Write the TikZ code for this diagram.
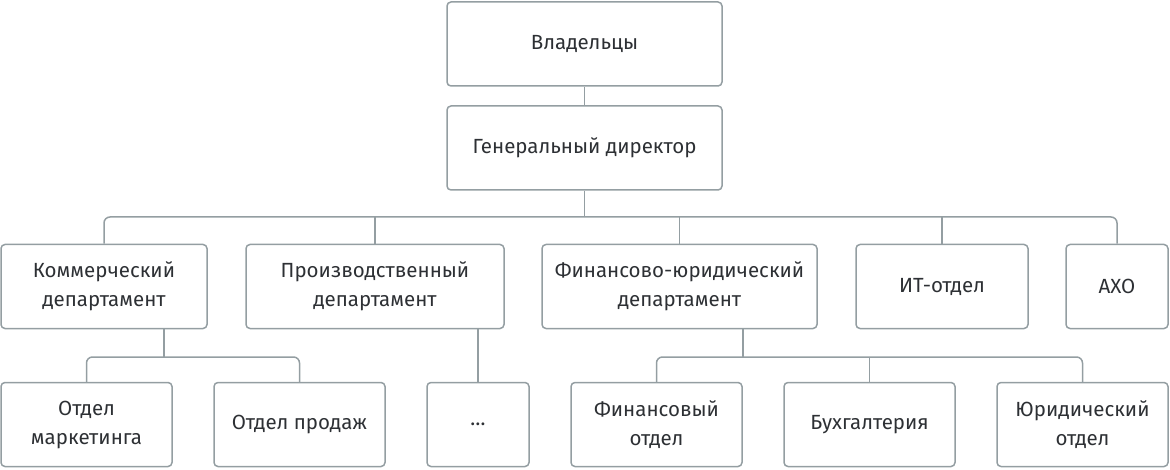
\documentclass[tikz,border=0pt]{standalone}
\usepackage{fontspec}
\setmainfont{Fira Sans}
\usetikzlibrary{positioning, calc}

\definecolor{linegray}{RGB}{148,158,162}
\definecolor{textgray}{RGB}{45,48,52}

\begin{document}
\begin{tikzpicture}[x=1pt, y=1pt,
                unit/.style={draw=linegray, line width=1.5pt, rounded corners=4pt,
                           align=center, font=\fontsize{20.5}{29}\selectfont, text=textgray,
                           minimum height=84pt, inner sep=0pt},
                link/.style={draw=linegray, line width=1.5pt, rounded corners=6pt}]

                \useasboundingbox (0,0) rectangle (1170,469);

                % top of the chart
                \node[unit, minimum width=275pt] (owners) at (584.5,425) {Владельцы};
                \node[unit, minimum width=275pt] (ceo) at (584.5,321) {Генеральный директор};
                \draw[link] (owners) -- (ceo);

                % departments
                \node[unit, minimum width=206pt] (comm) at (104,182.5) {Коммерческий\\департамент};
                \node[unit, minimum width=258pt] (prod) at (375,182.5) {Производственный\\департамент};
                \node[unit, minimum width=275pt] (finlaw) at (679.5,182.5) {Финансово-юридический\\департамент};
                \node[unit, minimum width=172pt] (itdep) at (942,182.5) {ИТ-отдел};
                \node[unit, minimum width=102pt] (aho) at (1117,182.5) {АХО};

                % bus under the director
                \coordinate (bus) at (0,252);
                \draw[link] (ceo) -- (ceo |- bus);
                \draw[link] (comm.north) -- (comm.north |- bus) -- (aho.north |- bus) -- (aho.north);
                \draw[link] (prod.north) -- (prod.north |- bus);
                \draw[link] (finlaw.north) -- (finlaw.north |- bus);
                \draw[link] (itdep.north) -- (itdep.north |- bus);

                % sub units
                \node[unit, minimum width=171pt] (mark) at (86.5,44.5) {Отдел\\маркетинга};
                \node[unit, minimum width=171pt] (sales) at (299.5,44.5) {Отдел продаж};
                \node[unit, minimum width=102pt] (more) at (478,44.5) {\dots};
                \node[unit, minimum width=171pt] (findep) at (656.5,44.5) {Финансовый\\отдел};
                \node[unit, minimum width=171pt] (acc) at (869.5,44.5) {Бухгалтерия};
                \node[unit, minimum width=171pt] (legal) at (1082.5,44.5) {Юридический\\отдел};

                % lower buses
                \coordinate (subbus) at (0,112);
                \coordinate (commout) at ($(comm.south)+(60,0)$);
                \coordinate (finout) at ($(finlaw.south)+(63.5,0)$);
                \draw[link] (commout) -- (commout |- subbus);
                \draw[link] (mark.north) -- (mark.north |- subbus) -- (sales.north |- subbus) -- (sales.north);
                \draw[link] (more.north) -- (more.north |- prod.south);
                \draw[link] (finout) -- (finout |- subbus);
                \draw[link] (findep.north) -- (findep.north |- subbus) -- (legal.north |- subbus) -- (legal.north);
                \draw[link] (acc.north) -- (acc.north |- subbus);
            \end{tikzpicture}
\end{document}
